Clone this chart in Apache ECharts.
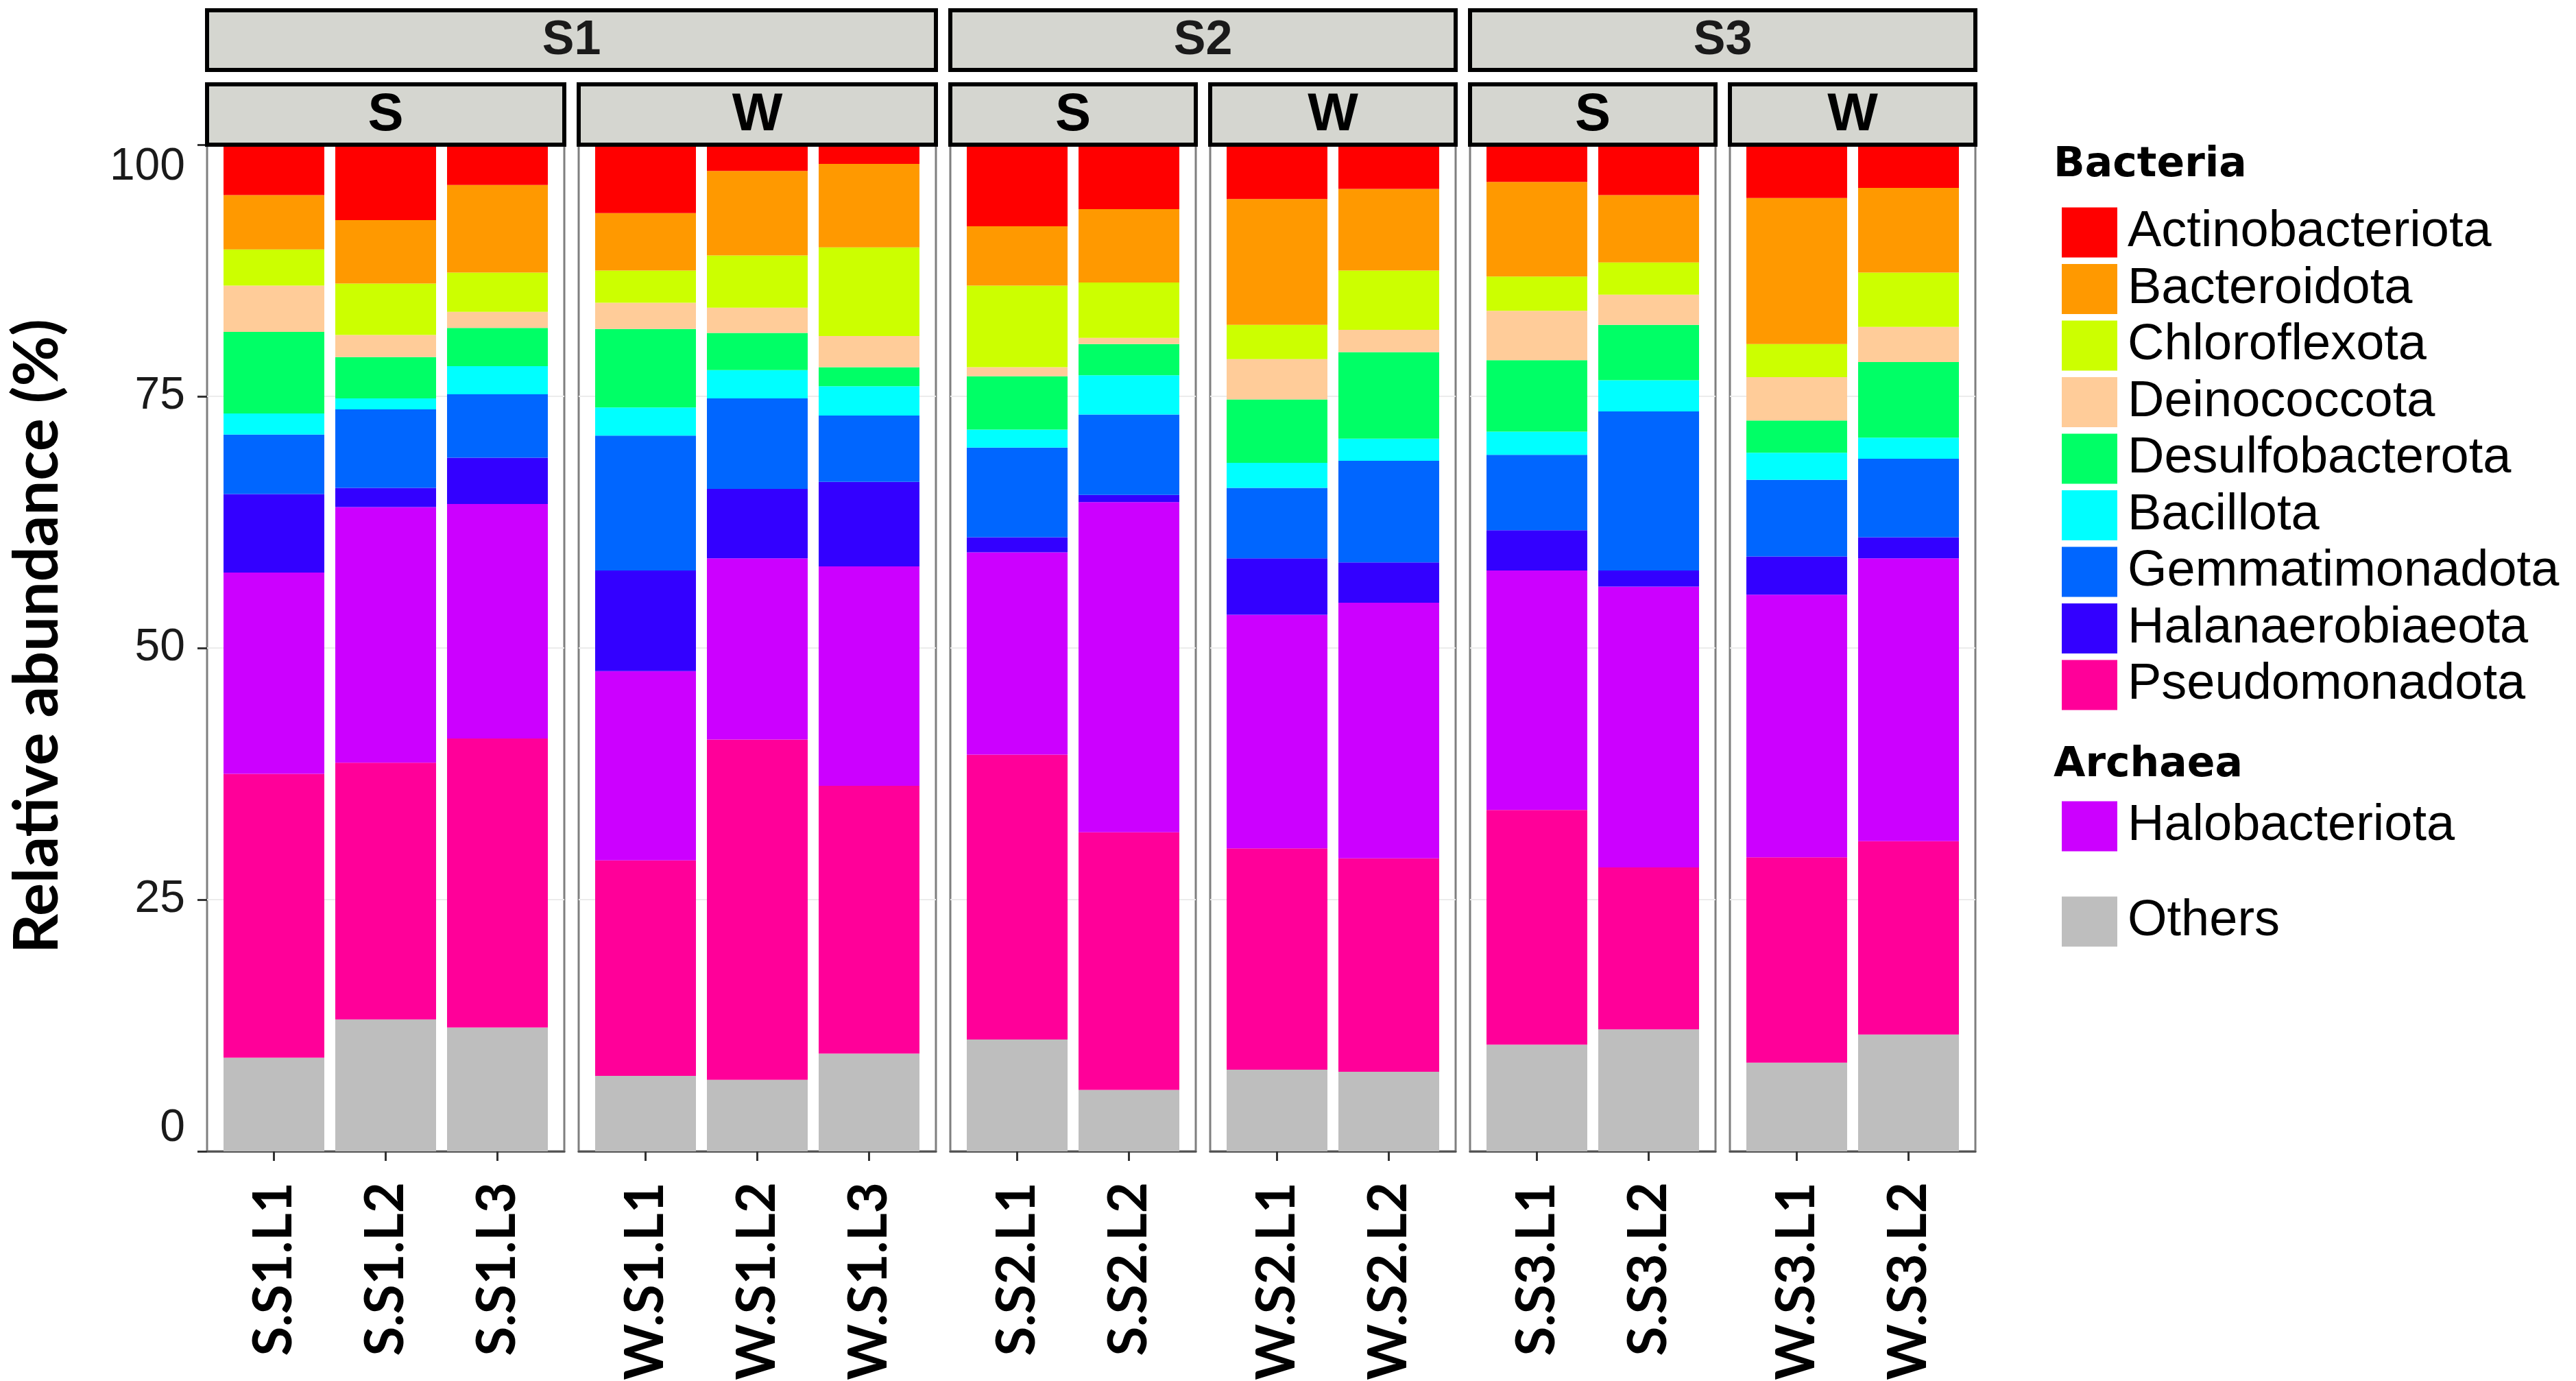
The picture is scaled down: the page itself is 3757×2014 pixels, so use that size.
<!DOCTYPE html>
<html>
<head>
<meta charset="utf-8">
<title>Relative abundance</title>
<script src="https://cdn.jsdelivr.net/npm/echarts@6/dist/echarts.min.js"></script>
<style>
  html, body { margin: 0; padding: 0; background: #fff; }
  #chart { width: 3757px; height: 2014px; }
</style>
</head>
<body>
<div id="chart"></div>
<script>
// samples, left to right (season.site.layer)
const samples = ['S.S1.L1', 'S.S1.L2', 'S.S1.L3', 'W.S1.L1', 'W.S1.L2', 'W.S1.L3',
  'S.S2.L1', 'S.S2.L2', 'W.S2.L1', 'W.S2.L2',
  'S.S3.L1', 'S.S3.L2', 'W.S3.L1', 'W.S3.L2'];

// relative abundance (%) per phylum, same order as samples
const actinobacteriota = [5.0, 7.5, 4.0, 6.8, 2.6, 1.9, 8.1, 6.4, 5.4, 4.4, 3.8, 5.0, 5.3, 4.4];
const bacteroidota = [5.4, 6.3, 8.7, 5.7, 8.4, 8.3, 5.9, 7.3, 12.5, 8.1, 9.4, 6.7, 14.5, 8.4];
const chloroflexota = [3.6, 5.1, 3.9, 3.2, 5.2, 8.8, 8.1, 5.5, 3.4, 5.9, 3.4, 3.2, 3.3, 5.4];
const deinococcota = [4.6, 2.2, 1.6, 2.6, 2.5, 3.1, 0.9, 0.6, 4.0, 2.2, 4.9, 3.0, 4.3, 3.5];
const desulfobacterota = [8.1, 4.1, 3.8, 7.8, 3.7, 1.9, 5.3, 3.1, 6.3, 8.6, 7.1, 5.5, 3.2, 7.5];
const bacillota = [2.1, 1.1, 2.8, 2.8, 2.8, 2.9, 1.8, 3.9, 2.5, 2.2, 2.3, 3.1, 2.7, 2.1];
const gemmatimonadota = [5.9, 7.8, 6.3, 13.4, 9.0, 6.6, 8.9, 8.0, 7.0, 10.1, 7.5, 15.8, 7.6, 7.8];
const halanaerobiaeota = [7.8, 1.9, 4.6, 10.0, 6.9, 8.4, 1.5, 0.7, 5.6, 4.0, 4.0, 1.6, 3.8, 2.1];
const pseudomonadota = [28.2, 25.5, 28.7, 21.4, 33.8, 26.6, 28.3, 25.6, 22.0, 21.2, 23.3, 16.1, 20.4, 19.2];
const halobacteriota = [20.0, 25.4, 23.3, 18.8, 18.0, 21.8, 20.1, 32.8, 23.2, 25.4, 23.8, 27.9, 26.1, 28.1];
const others = [9.3, 13.1, 12.3, 7.5, 7.1, 9.7, 11.1, 6.1, 8.1, 7.9, 10.6, 12.1, 8.8, 11.6];

const bacteriaNames = ['Actinobacteriota', 'Bacteroidota', 'Chloroflexota', 'Deinococcota',
  'Desulfobacterota', 'Bacillota', 'Gemmatimonadota', 'Halanaerobiaeota', 'Pseudomonadota'];
const archaeaNames = ['Halobacteriota'];
const otherNames = ['Others'];
const yTicks = [0, 25, 50, 75, 100];

// stacking order, bottom to top
const taxa = [
  { name: 'Others', color: '#bebebe', values: others },
  { name: 'Pseudomonadota', color: '#ff0099', values: pseudomonadota },
  { name: 'Halobacteriota', color: '#cc00ff', values: halobacteriota },
  { name: 'Halanaerobiaeota', color: '#3300ff', values: halanaerobiaeota },
  { name: 'Gemmatimonadota', color: '#0066ff', values: gemmatimonadota },
  { name: 'Bacillota', color: '#00ffff', values: bacillota },
  { name: 'Desulfobacterota', color: '#00ff66', values: desulfobacterota },
  { name: 'Deinococcota', color: '#ffcc99', values: deinococcota },
  { name: 'Chloroflexota', color: '#ccff00', values: chloroflexota },
  { name: 'Bacteroidota', color: '#ff9900', values: bacteroidota },
  { name: 'Actinobacteriota', color: '#ff0000', values: actinobacteriota }
];

// layout (px)
const PANEL_TOP = 211;
const PANEL_BOTTOM = 1679;
const LEFT0 = 302;
const BAND = 163;
const PAD = 16;
const GAP = 21;
const BAR_W = 147;

// group samples into site / season panels
const panels = [];
samples.forEach((s, i) => {
  const [season, site] = s.split('.');
  let p = panels[panels.length - 1];
  if (!p || p.season !== season || p.site !== site) {
    p = { season, site, idx: [] };
    panels.push(p);
  }
  p.idx.push(i);
});
let cursor = LEFT0;
panels.forEach(p => {
  p.left = cursor;
  p.width = p.idx.length * BAND + 2 * PAD;
  cursor += p.width + GAP;
});

const grid = [], xAxis = [], yAxis = [], series = [], graphic = [];

panels.forEach((p, g) => {
  const n = p.idx.length;
  const cats = p.idx.map(i => samples[i]);
  const pos = cats.map((c, j) => j);
  grid.push({
    left: p.left, width: p.width, top: PANEL_TOP, height: PANEL_BOTTOM - PANEL_TOP,
    outerBoundsMode: 'none',
    show: true, borderColor: '#7f7f7f', borderWidth: 3, backgroundColor: 'transparent'
  });
  xAxis.push({
    type: 'value', gridIndex: g,
    min: -0.5 - PAD / BAND, max: n - 0.5 + PAD / BAND,
    splitLine: { show: false },
    axisLine: { show: true, onZero: false, lineStyle: { color: '#555', width: 3 } },
    axisTick: { show: true, customValues: pos, length: 14, lineStyle: { color: '#333', width: 3 } },
    axisLabel: {
      customValues: pos, rotate: 90, margin: 45,
      formatter: v => cats[Math.round(v)],
      fontFamily: 'Lato', fontWeight: 'bold', fontSize: 78, color: '#000'
    }
  });
  yAxis.push({
    type: 'value', gridIndex: g, min: 0, max: 100, interval: 12.5,
    splitLine: { show: true, lineStyle: { color: '#ececec', width: 2 } },
    axisLine: { show: false, onZero: false },
    axisTick: { show: g === 0, customValues: yTicks, length: 14, lineStyle: { color: '#333', width: 3 } },
    axisLabel: {
      show: g === 0, customValues: yTicks, margin: 32,
      verticalAlignMinLabel: 'bottom', verticalAlignMaxLabel: 'top',
      fontFamily: 'Liberation Sans', fontSize: 66, color: '#1a1a1a'
    }
  });
  taxa.forEach(t => {
    series.push({
      name: t.name, type: 'bar', xAxisIndex: g, yAxisIndex: g, stack: 'p' + g,
      barWidth: BAR_W, itemStyle: { color: t.color },
      emphasis: { disabled: true },
      // value first so that it is the stacked dimension
      dimensions: ['pct', 'pos'],
      encode: { x: 'pos', y: 'pct' },
      data: p.idx.map((si, j) => [t.values[si], j])
    });
  });
  // season strip
  graphic.push({
    type: 'rect', z: 100,
    shape: { x: p.left, y: 123, width: p.width, height: 88 },
    style: { fill: '#d5d6d0', stroke: '#000', lineWidth: 6 }
  });
  graphic.push({
    type: 'text', z: 101, x: p.left + p.width / 2, y: 168,
    style: { text: p.season, fontFamily: 'Liberation Sans', fontWeight: 'bold', fontSize: 78,
      fill: '#000', align: 'center', verticalAlign: 'middle' }
  });
});

// site strips
const sites = [...new Set(panels.map(p => p.site))];
sites.forEach(site => {
  const ps = panels.filter(p => p.site === site);
  const x0 = ps[0].left;
  const x1 = ps[ps.length - 1].left + ps[ps.length - 1].width;
  graphic.push({
    type: 'rect', z: 100,
    shape: { x: x0, y: 15, width: x1 - x0, height: 87 },
    style: { fill: '#d5d6d0', stroke: '#000', lineWidth: 6 }
  });
  graphic.push({
    type: 'text', z: 101, x: (x0 + x1) / 2, y: 60,
    style: { text: site, fontFamily: 'Liberation Sans', fontWeight: 'bold', fontSize: 70,
      fill: '#1a1a1a', align: 'center', verticalAlign: 'middle' }
  });
});

// axis title and legend headings
graphic.push({
  type: 'text', z: 101, x: 55, y: 928, rotation: Math.PI / 2,
  style: { text: 'Relative abundance (%)', fontFamily: 'Lato', fontWeight: 'bold', fontSize: 90,
    fill: '#000', align: 'center', verticalAlign: 'middle' }
});
graphic.push({
  type: 'text', z: 101, x: 2995, y: 241,
  style: { text: 'Bacteria', fontFamily: 'DejaVu Sans', fontWeight: 'bold', fontSize: 60,
    fill: '#000', align: 'left', verticalAlign: 'middle' }
});
graphic.push({
  type: 'text', z: 101, x: 2995, y: 1116,
  style: { text: 'Archaea', fontFamily: 'DejaVu Sans', fontWeight: 'bold', fontSize: 60,
    fill: '#000', align: 'left', verticalAlign: 'middle' }
});

const legendBase = {
  orient: 'vertical', left: 3007, padding: 0, icon: 'rect',
  itemWidth: 81, itemHeight: 73, itemGap: 8.5,
  textStyle: { fontFamily: 'Liberation Sans', fontSize: 74, color: '#000', lineHeight: 73, padding: [0, 0, 0, 10] }
};

const chart = echarts.init(document.getElementById('chart'), null, { renderer: 'canvas' });
chart.setOption({
  backgroundColor: '#fff',
  animation: false,
  legend: [
    Object.assign({}, legendBase, { top: 302, data: bacteriaNames }),
    Object.assign({}, legendBase, { top: 1168, data: archaeaNames }),
    Object.assign({}, legendBase, { top: 1307, data: otherNames })
  ],
  grid: grid,
  xAxis: xAxis,
  yAxis: yAxis,
  series: series,
  graphic: graphic
});
window.addEventListener('resize', function () {
  chart.resize();
});
</script>
</body>
</html>
